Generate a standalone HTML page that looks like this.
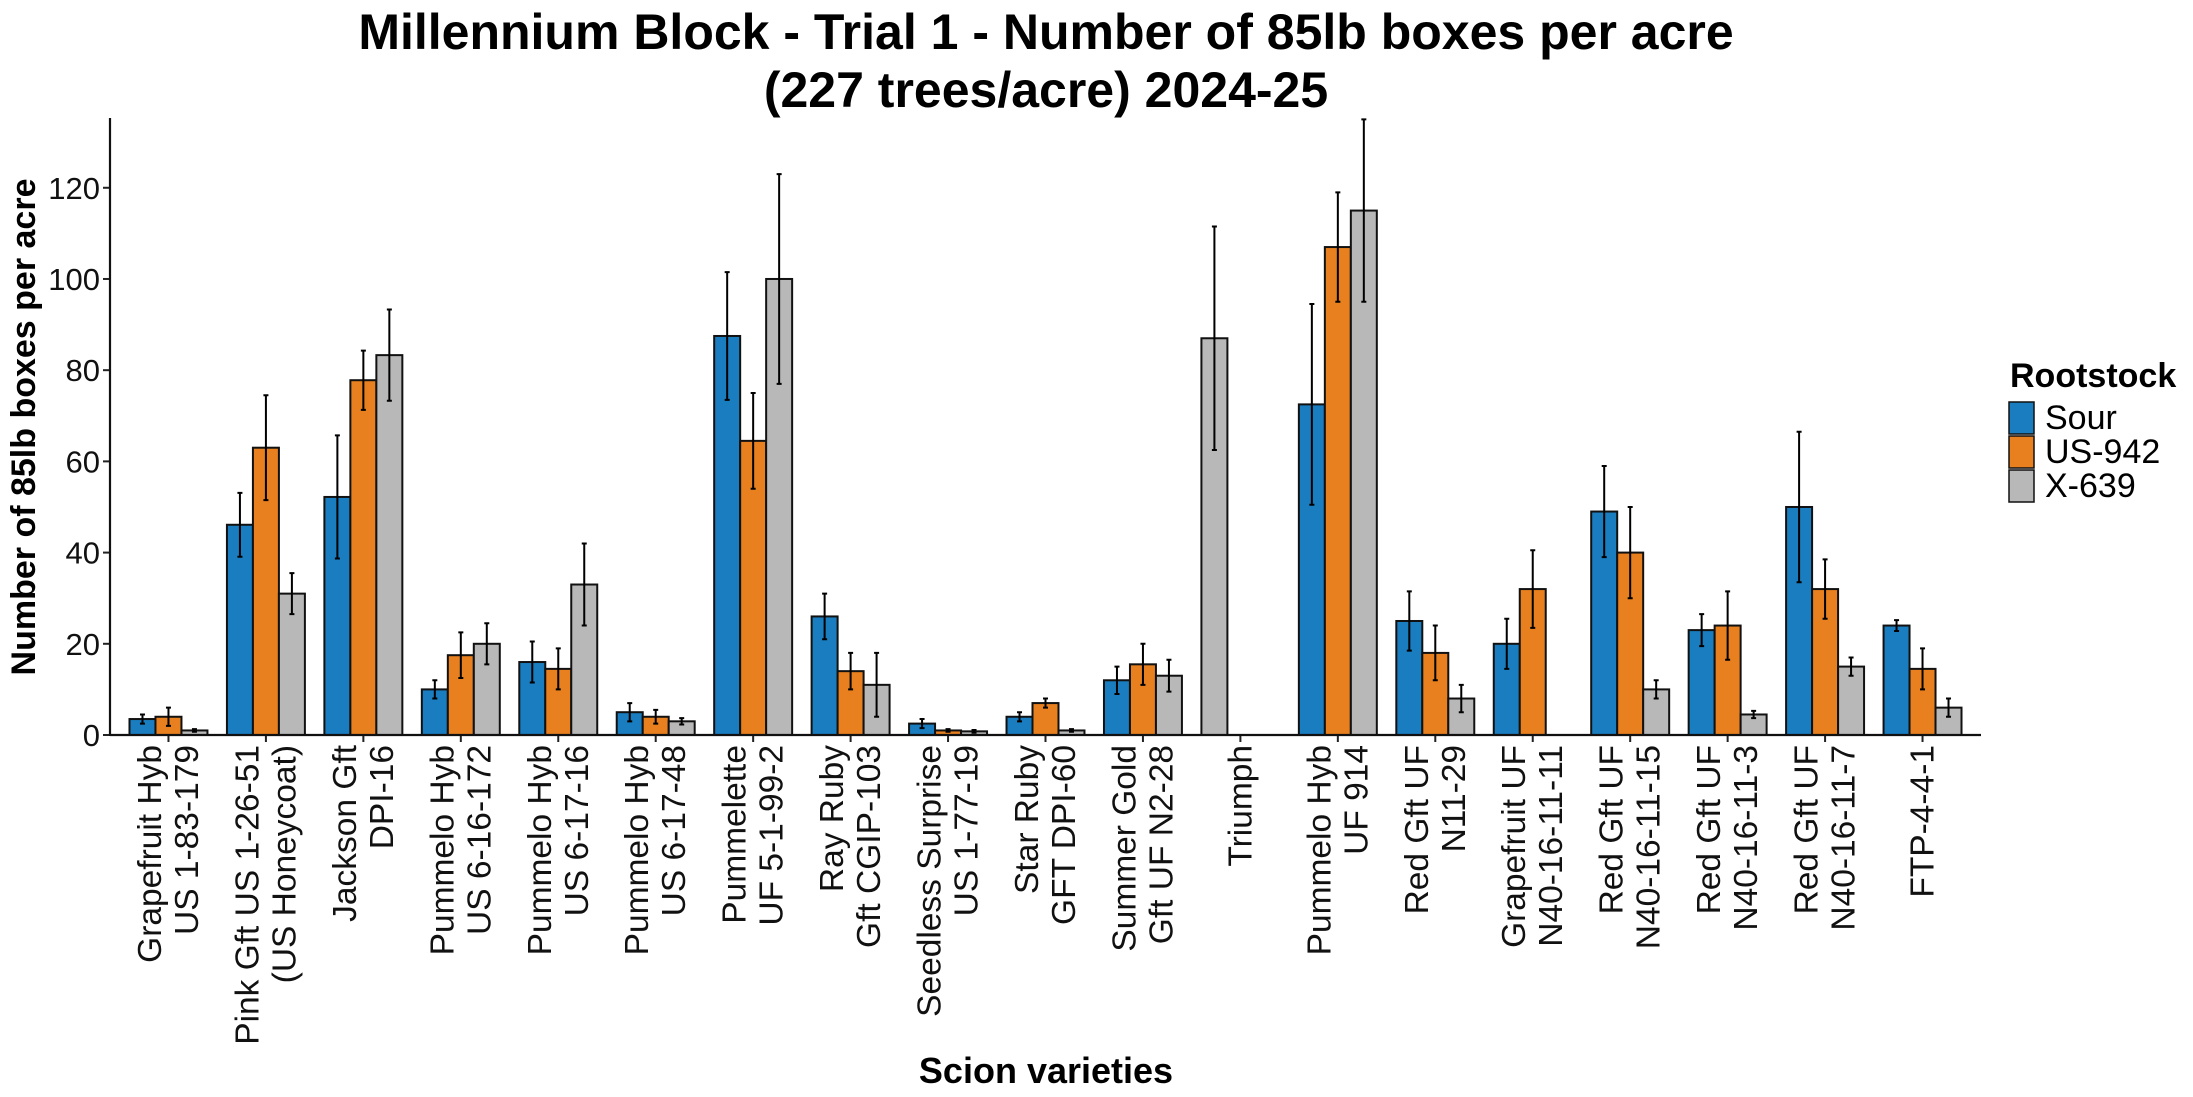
<!DOCTYPE html>
<html><head><meta charset="utf-8"><style>
html,body{margin:0;padding:0;background:#fff;}
svg{display:block;font-family:"Liberation Sans",Arial,sans-serif;}
</style></head><body>
<svg id="chart" width="2193" height="1097" viewBox="0 0 2193 1097" xmlns="http://www.w3.org/2000/svg">
<text x="1046" y="49" text-anchor="middle" font-size="50" font-weight="bold">Millennium Block - Trial 1 - Number of 85lb boxes per acre</text>
<text x="1046" y="107" text-anchor="middle" font-size="50" font-weight="bold">(227 trees/acre) 2024-25</text>
<g id="plot"></g>
<text x="1046" y="1083" text-anchor="middle" font-size="36" font-weight="bold">Scion varieties</text>
<text transform="translate(35,427) rotate(-90)" text-anchor="middle" font-size="34" font-weight="bold">Number of 85lb boxes per acre</text>
<g>
<text x="2010" y="387" font-size="34" font-weight="bold">Rootstock</text>
<g><rect x="2009" y="402" width="25" height="32" fill="#1a7dbf" stroke="#111" stroke-width="1.5"/><text x="2045" y="429" font-size="34">Sour</text></g>
<g><rect x="2009" y="436" width="25" height="32" fill="#e8801f" stroke="#111" stroke-width="1.5"/><text x="2045" y="463" font-size="34">US-942</text></g>
<g><rect x="2009" y="470" width="25" height="32" fill="#b8b8b8" stroke="#111" stroke-width="1.5"/><text x="2045" y="497" font-size="34">X-639</text></g>
</g>
</svg>
<script>
const categories = [
 ["Grapefruit Hyb","US 1-83-179"],["Pink Gft US 1-26-51","(US Honeycoat)"],["Jackson Gft","DPI-16"],
 ["Pummelo Hyb","US 6-16-172"],["Pummelo Hyb","US 6-17-16"],["Pummelo Hyb","US 6-17-48"],
 ["Pummelette","UF 5-1-99-2"],["Ray Ruby","Gft CGIP-103"],["Seedless Surprise","US 1-77-19"],
 ["Star Ruby","GFT DPI-60"],["Summer Gold","Gft UF N2-28"],["Triumph"],["Pummelo Hyb","UF 914"],
 ["Red Gft UF","N11-29"],["Grapefruit UF","N40-16-11-11"],["Red Gft UF","N40-16-11-15"],
 ["Red Gft UF","N40-16-11-3"],["Red Gft UF","N40-16-11-7"],["FTP-4-4-1"]
];
const series = ["Sour","US-942","X-639"];
const sourValues = [3.5,46.1,52.2,10,16,5,87.5,26,2.5,4,12,null,72.5,25,20,49,23,50,24];
const sourErr    = [1,7,13.5,2,4.5,2,14,5,1,1,3,null,22,6.5,5.5,10,3.5,16.5,1.2];
const us942Values = [4,63,77.8,17.5,14.5,4,64.5,14,1,7,15.5,null,107,18,32,40,24,32,14.5];
const us942Err    = [2,11.5,6.5,5,4.5,1.5,10.5,4,0.3,1,4.5,null,12,6,8.5,10,7.5,6.5,4.5];
const x639Values = [1,31,83.3,20,33,3,100,11,0.8,1,13,87,115,8,null,10,4.5,15,6];
const x639Err    = [0.3,4.5,10,4.5,9,0.7,23,7,0.3,0.3,3.5,24.5,20,3,null,2,0.8,2,2];
const yTicks = [0,20,40,60,80,100,120];

const NS="http://www.w3.org/2000/svg";
const plot=document.getElementById('plot');
const X0=110,X1=1981,YTOP=118,YBASE=735,YMAX=135.3;
const step=(X1-X0)/(categories.length+0.2);
const xCenter=i=>X0+(i+0.6)*step;
const yScale=v=>YBASE-v/YMAX*(YBASE-YTOP);
const barW=step*0.8/3;
const colors=["#1a7dbf","#e8801f","#b8b8b8"];
const vals=[sourValues,us942Values,x639Values];
const errs=[sourErr,us942Err,x639Err];
function mk(tag,attrs){const e=document.createElementNS(NS,tag);for(const k in attrs)e.setAttribute(k,attrs[k]);plot.appendChild(e);return e;}

yTicks.forEach(t=>{
 const y=yScale(t);
 const l=mk('line',{x1:X0-7,x2:X0,y1:y,y2:y,stroke:'#222','stroke-width':2});
 
 
 const tx=mk('text',{x:X0-10,y:y+11,'text-anchor':'end','font-size':31,fill:'#111'});
 tx.textContent=t;
 
 
});

categories.forEach((cat,i)=>{
 const cx=xCenter(i);
 let slot=0;
 for(let s=0;s<3;s++){
  const v=vals[s][i]; if(v===null||v===undefined) continue;
  const bx=cx+(slot-1)*barW; slot++;
  const r=mk('rect',{x:bx-barW/2,y:yScale(v),width:barW,height:YBASE-yScale(v),fill:colors[s],stroke:'#111','stroke-width':2});
  
  
  const e=errs[s][i];
  const g=mk('path',{d:`M${bx} ${yScale(v+e)}V${yScale(Math.max(0,v-e))}M${bx-2.5} ${yScale(v+e)}h5M${bx-2.5} ${yScale(Math.max(0,v-e))}h5`,stroke:'#000','stroke-width':2,fill:'none'});
  
  
 }
 const tk=mk('line',{x1:cx,x2:cx,y1:YBASE,y2:YBASE+7,stroke:'#222','stroke-width':2});
 
 
 const n=cat.length;
 cat.forEach((line,j)=>{
  const bx=cx+(j-(n-1)/2)*37+11;
  const t=mk('text',{transform:`translate(${bx},745) rotate(-90)`,'text-anchor':'end','font-size':33.5,fill:'#111'});
  t.textContent=line;
  
  
 });
});
const ax=mk('line',{x1:X0,x2:X1,y1:YBASE,y2:YBASE,stroke:'#111','stroke-width':2.2});


const ay=mk('line',{x1:X0,x2:X0,y1:YTOP,y2:YBASE+1,stroke:'#111','stroke-width':2.2});


</script>
</body></html>
